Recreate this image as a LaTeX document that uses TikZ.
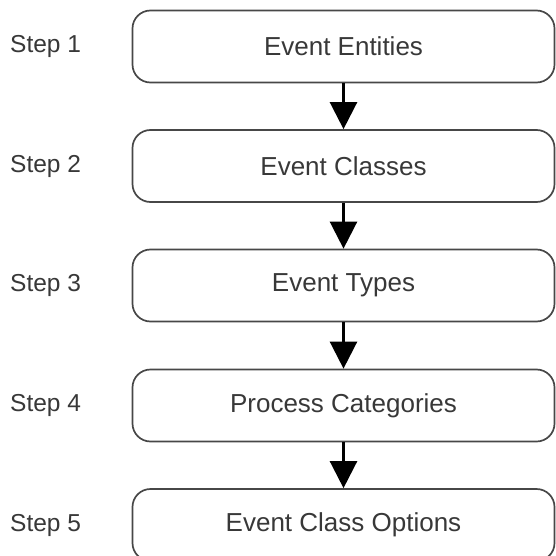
\documentclass[tikz,border=0pt]{standalone}
\usepackage{fontspec}
\setmainfont{Liberation Sans}
\usetikzlibrary{arrows.meta}
\definecolor{edgegray}{HTML}{474747}
\definecolor{textgray}{HTML}{383838}
\begin{document}
\begin{tikzpicture}[x=1pt,y=-1pt,
  stepbox/.style={draw=edgegray, line width=1.7pt, rounded corners=18pt,
    minimum width=422pt, minimum height=72pt, inner sep=0pt,
    font=\fontsize{26}{30}\selectfont, text=textgray},
  steplabel/.style={anchor=west, inner sep=0pt, font=\fontsize{24.5}{28}\selectfont, text=textgray},
  flow/.style={draw=black, line width=2.5pt, -{Triangle[width=27pt,length=27pt]}}]
\useasboundingbox (0,0) rectangle (556,556);
\clip (0,0) rectangle (556,556);
\node[stepbox] (b1) at (343.5,46.5) {Event Entities};
\node[stepbox] (b2) at (343.5,166) {Event Classes};
\node[stepbox] (b3) at (343.5,285.5) {Event Types};
\node[stepbox] (b4) at (343.5,405.5) {Process Categories};
\node[stepbox] (b5) at (343.5,525) {Event Class Options};
\node[steplabel] (s1) at (10,46.5) {Step 1};
\node[steplabel] (s2) at (10,166) {Step 2};
\node[steplabel] (s3) at (10,285.5) {Step 3};
\node[steplabel] (s4) at (10,405.5) {Step 4};
\node[steplabel] (s5) at (10,525) {Step 5};
\draw[flow] (b1.south) -- (b2.north);
\draw[flow] (b2.south) -- (b3.north);
\draw[flow] (b3.south) -- (b4.north);
\draw[flow] (b4.south) -- (b5.north);
\end{tikzpicture}
\end{document}
